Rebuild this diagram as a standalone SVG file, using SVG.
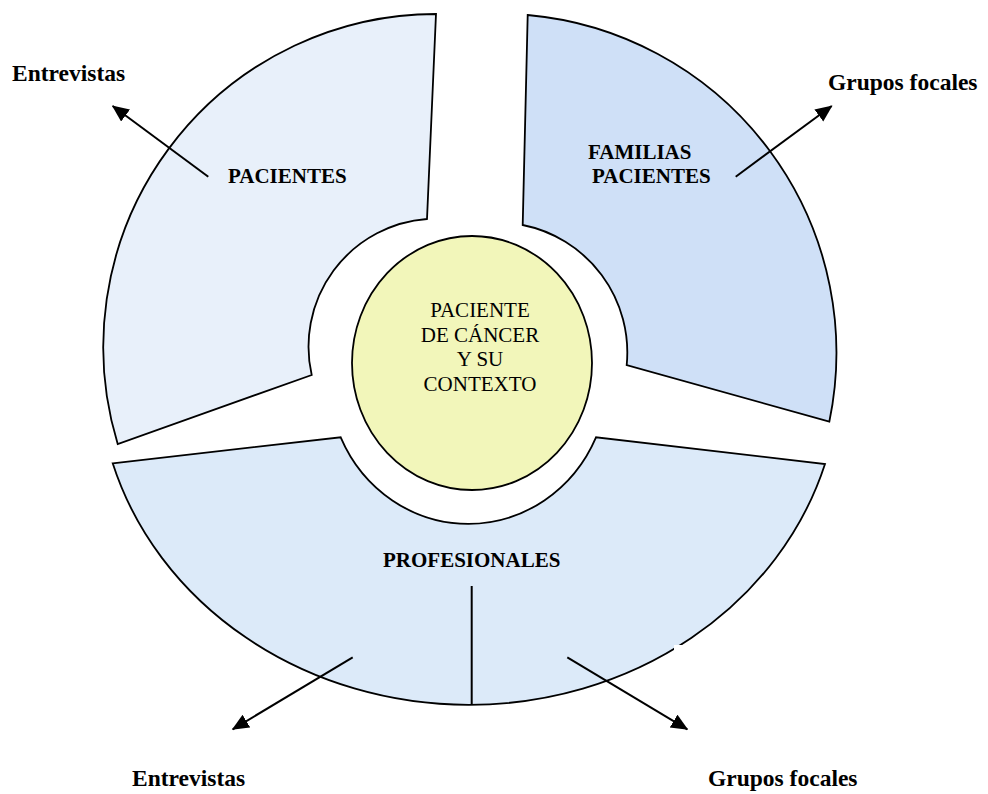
<svg xmlns="http://www.w3.org/2000/svg" width="988" height="794" viewBox="0 0 988 794">
<style>
.seg{stroke:#000;stroke-width:1.8;stroke-linejoin:miter}
.lbl{font-family:"Liberation Serif","Times New Roman",serif;font-weight:bold;fill:#000}
.big{font-size:23.5px}
.mid{font-size:21px}
.ctr{font-family:"Liberation Serif","Times New Roman",serif;font-size:21px;fill:#000;text-anchor:middle}
.arr{stroke:#000;stroke-width:2;fill:none}
</style>
<defs>
<marker id="ah" markerUnits="userSpaceOnUse" markerWidth="18" markerHeight="16" refX="16" refY="7.5" orient="auto">
<path d="M0,0 L17,7.5 L0,15 Z" fill="#000"/>
</marker>
</defs>
<rect width="988" height="794" fill="#fff"/>
<g id="pacientes">
<path class="seg" fill="#E8F0FA" d="M436,14 A333,333 0 0 0 117.7,444 L311.7,375 A128,128 0 0 1 427,219 Z"/>
<text class="lbl mid" x="228" y="183">PACIENTES</text>
</g>
<g id="familias">
<path class="seg" fill="#CFE0F7" d="M527.7,15 A339,339 0 0 1 829.3,421.7 L626.7,365 A130,130 0 0 0 522.7,225 Z"/>
<text class="lbl mid" x="588" y="159">FAMILIAS</text>
<text class="lbl mid" x="592" y="183">PACIENTES</text>
</g>
<g id="profesionales">
<path class="seg" fill="#DCEAF9" d="M112.7,463.3 L340.7,437.3 A140,147 0 0 0 596,437.3 L825,464 A371,335 0 0 1 112.7,463.3 Z"/>
<line x1="471.7" y1="586" x2="471.7" y2="705" stroke="#000" stroke-width="2"/>
<rect x="674" y="645" width="15" height="10" fill="#fff"/>
<text class="lbl mid" x="383" y="567">PROFESIONALES</text>
</g>
<g id="centro">
<ellipse cx="472" cy="363" rx="120" ry="127" fill="#F2F6BA" stroke="#000" stroke-width="1.8"/>
<text class="ctr" x="480" y="317">PACIENTE</text>
<text class="ctr" x="480" y="341.5">DE CÁNCER</text>
<text class="ctr" x="480" y="366">Y SU</text>
<text class="ctr" x="480" y="390.5">CONTEXTO</text>
</g>
<g id="entrevistas-1"><text class="lbl big" x="12" y="81">Entrevistas</text></g>
<g id="grupos-1"><text class="lbl big" x="828" y="90">Grupos focales</text></g>
<g id="entrevistas-2"><text class="lbl big" x="132" y="786">Entrevistas</text></g>
<g id="grupos-2"><text class="lbl big" x="708" y="786">Grupos focales</text></g>
<g id="connectors">
<line class="arr" x1="208.3" y1="176.7" x2="112.7" y2="106" marker-end="url(#ah)"/>
<line class="arr" x1="735.7" y1="176.7" x2="831.7" y2="106" marker-end="url(#ah)"/>
<line class="arr" x1="352.7" y1="657.3" x2="232.7" y2="729.3" marker-end="url(#ah)"/>
<line class="arr" x1="567.3" y1="657.3" x2="687.3" y2="729.3" marker-end="url(#ah)"/>
</g>
</svg>
